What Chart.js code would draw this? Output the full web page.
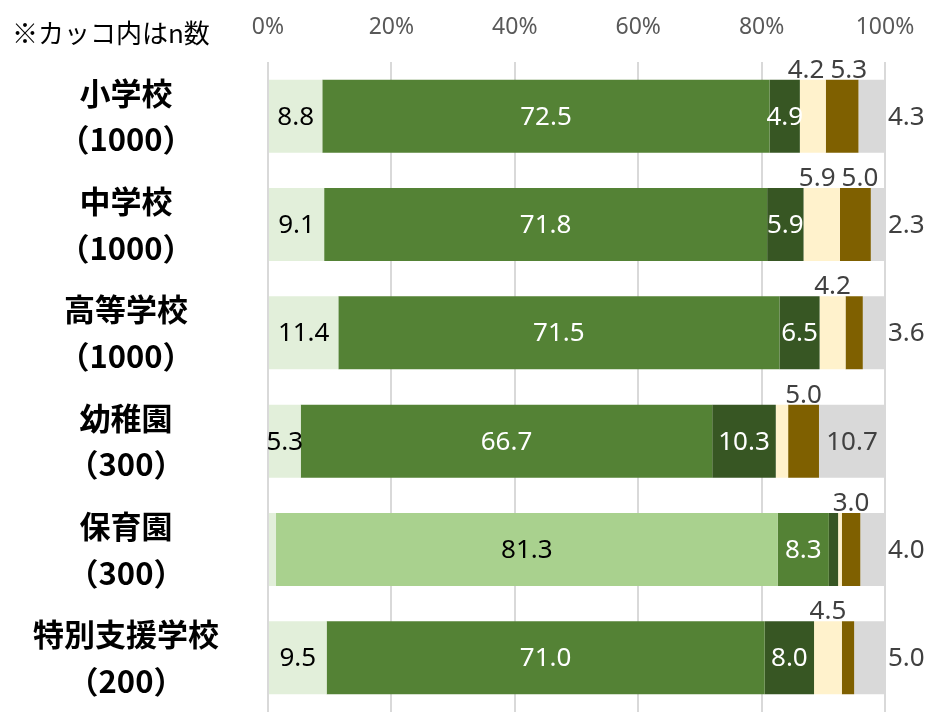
<!DOCTYPE html>
<html>
<head>
<meta charset="utf-8">
<script src="https://cdn.jsdelivr.net/npm/chart.js@4"></script>
<style>
  body { margin: 0; background: #fff; }
  #wrap { position: relative; width: 937px; height: 712px; }
  #note {
    position: absolute; left: 12px; top: 13px;
    font: 26px "Noto Sans CJK JP", sans-serif; color: #000;
    white-space: nowrap; line-height: 38px;
  }
</style>
</head>
<body>
<div id="wrap">
  <canvas id="myChart" width="937" height="712"></canvas>
  <div id="note">※カッコ内はn数</div>
</div>
<script>
var schools = ['小学校', '中学校', '高等学校', '幼稚園', '保育園', '特別支援学校'];
var counts = ['1000', '1000', '1000', '300', '300', '200'];
var xTicks = [0, 20, 40, 60, 80, 100];

// shares per school, left to right in each bar
var lightGreen = [8.8, 9.1, 11.4, 5.3, 1.3, 9.5];
var paleGreen  = [0, 0, 0, 0, 81.3, 0];
var midGreen   = [72.5, 71.8, 71.5, 66.7, 8.3, 71.0];
var darkGreen  = [4.9, 5.9, 6.5, 10.3, 1.5, 8.0];
var cream      = [4.2, 5.9, 4.2, 2.0, 0.6, 4.5];
var brown      = [5.3, 5.0, 2.8, 5.0, 3.0, 2.0];
var grey       = [4.3, 2.3, 3.6, 10.7, 4.0, 5.0];

var labels = schools.map(function(s, i) {
    return [s, '（' + counts[i] + '）'];
});

// where each segment's number goes: inside, above the bar, or right of it
var segments = [
    { data: lightGreen, color: '#E2EFDA', place: 'inside', text: '#000000', min: 3 },
    { data: paleGreen,  color: '#A9D18E', place: 'inside', text: '#000000', min: 3 },
    { data: midGreen,   color: '#548235', place: 'inside', text: '#FFFFFF', min: 3 },
    { data: darkGreen,  color: '#375623', place: 'inside', text: '#FFFFFF', min: 3 },
    { data: cream,      color: '#FFF2CC', place: 'above',  text: '#404040', min: 3 },
    { data: brown,      color: '#7F6000', place: 'above',  text: '#404040', min: 3 },
    { data: grey,       color: '#D9D9D9', place: 'end',    text: '#404040', min: 0 }
];

var labelFont = '26px "Noto Sans", sans-serif';

var valueLabels = {
    id: 'valueLabels',
    afterDatasetsDraw: function(chart) {
        var ctx = chart.ctx;
        ctx.save();
        ctx.font = labelFont;
        var above = {};
        segments.forEach(function(seg, di) {
            var meta = chart.getDatasetMeta(di);
            meta.data.forEach(function(bar, j) {
                var v = seg.data[j];
                if (!v || v < seg.min) return;
                var p = bar.getProps(['x', 'y', 'base', 'height'], true);
                var txt = v.toFixed(1);
                var w = ctx.measureText(txt).width;
                if (seg.place === 'above') {
                    (above[j] = above[j] || []).push({ txt: txt, cx: (p.x + p.base) / 2, w: w, y: p.y - p.height / 2 - 2, color: seg.text });
                    return;
                }
                ctx.fillStyle = seg.text;
                ctx.textBaseline = 'middle';
                if (seg.place === 'end' && v < 8) {
                    ctx.textAlign = 'left';
                    ctx.fillText(txt, p.x + 3, p.y + 1);
                } else {
                    ctx.textAlign = 'center';
                    ctx.fillText(txt, (p.x + p.base) / 2, p.y + 1);
                }
            });
        });
        // push neighbouring labels above a bar apart so they don't overlap
        Object.keys(above).forEach(function(j) {
            var list = above[j].sort(function(a, b) { return a.cx - b.cx; });
            for (var k = 1; k < list.length; k++) {
                var a = list[k - 1], b = list[k];
                var need = (a.w + b.w) / 2 + 6 - (b.cx - a.cx);
                if (need > 0) { a.cx -= need / 2; b.cx += need / 2; }
            }
            list.forEach(function(l) {
                ctx.fillStyle = l.color;
                ctx.textAlign = 'center';
                ctx.textBaseline = 'alphabetic';
                ctx.fillText(l.txt, l.cx, l.y);
            });
        });
        ctx.restore();
    }
};

var ctx = document.getElementById('myChart').getContext('2d');
var myChart = new Chart(ctx, {
    type: 'bar',
    data: {
        labels: labels,
        datasets: segments.map(function(seg) {
            return {
                data: seg.data,
                backgroundColor: seg.color,
                borderWidth: 0,
                barPercentage: 0.674,
                categoryPercentage: 1
            };
        })
    },
    options: {
        indexAxis: 'y',
        responsive: false,
        animation: false,
        layout: { padding: { left: 0, right: 52, top: 0, bottom: 0 } },
        plugins: {
            legend: { display: false },
            tooltip: { enabled: false }
        },
        scales: {
            x: {
                position: 'top',
                stacked: true,
                min: 0,
                max: 100,
                afterBuildTicks: function(axis) {
                    axis.ticks = xTicks.map(function(v) { return { value: v }; });
                },
                afterFit: function(axis) { axis.height = 62; },
                grid: { color: '#D9D9D9', lineWidth: 2, drawTicks: false },
                border: { display: false },
                ticks: {
                    padding: 21,
                    color: '#595959',
                    font: { family: '"Noto Sans", sans-serif', size: 23 },
                    callback: function(v) { return v + '%'; }
                }
            },
            y: {
                stacked: true,
                afterFit: function(axis) {
                    axis.width = 268;
                    // the two-line labels shouldn't add space above and below the bars
                    axis.paddingTop = 0;
                    axis.paddingBottom = 0;
                },
                grid: { display: false, drawTicks: false },
                border: { display: false },
                ticks: {
                    crossAlign: 'center',
                    padding: 49,
                    color: '#000000',
                    font: { family: '"Noto Sans CJK JP", sans-serif', size: 31, weight: 'bold', lineHeight: 1.5 }
                }
            }
        }
    },
    plugins: [valueLabels]
});
</script>
</body>
</html>
